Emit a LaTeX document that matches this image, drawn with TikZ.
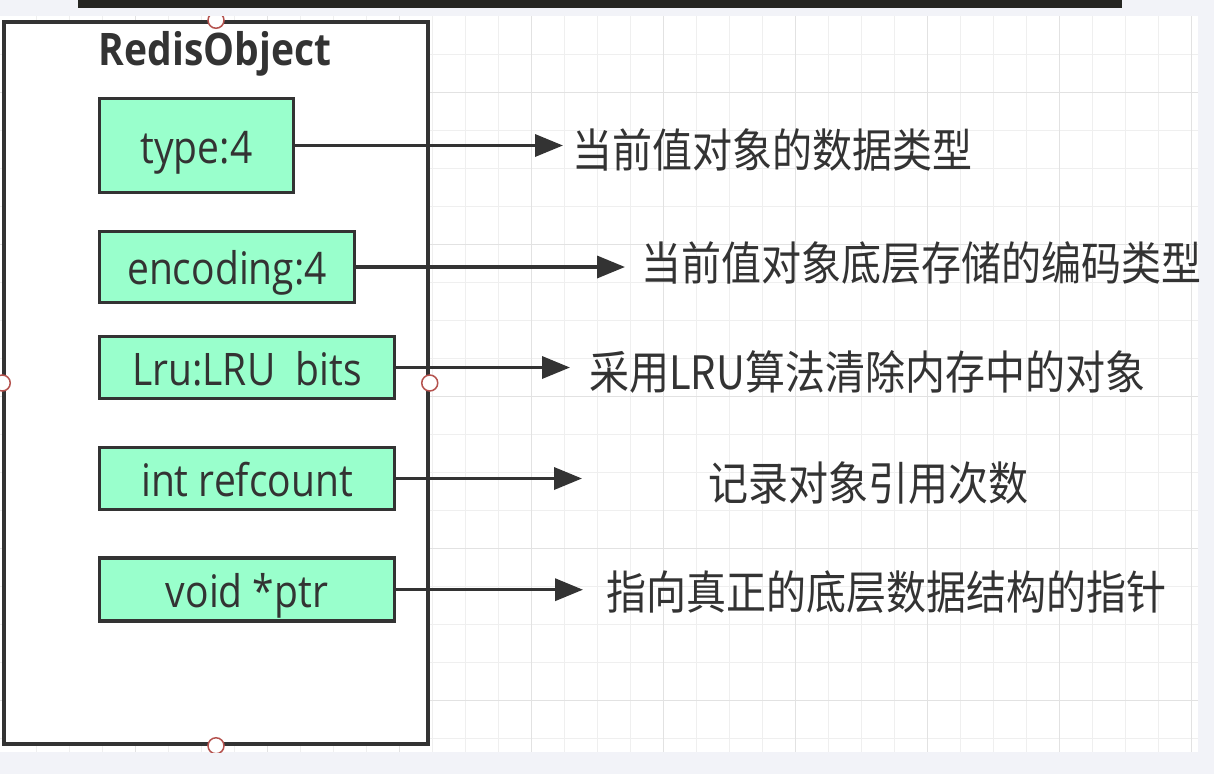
\documentclass[tikz,border=0pt]{standalone}
\usepackage{graphicx}
\usepackage{fontspec}
\setmainfont{Open Sans}
\newfontfamily\cjk{Noto Sans CJK SC}
\usetikzlibrary{arrows.meta}
\definecolor{ink}{HTML}{333333}
\definecolor{mint}{HTML}{99FFCC}
\definecolor{pagegray}{HTML}{F2F3F8}
\definecolor{gridminor}{HTML}{EFEFEF}
\definecolor{gridmajor}{HTML}{E2E2E2}
\definecolor{barblack}{HTML}{262622}
\definecolor{pinred}{HTML}{B5524E}
\newcommand{\tall}[1]{\scalebox{1}[1.15]{#1}}

\begin{document}
\begin{tikzpicture}[x=1pt,y=-1pt,
    field/.style={draw=ink, line width=3.5pt, fill=mint, text=ink, inner sep=0pt,
        text height=35pt, text depth=0pt, font=\fontsize{39}{40}\selectfont},
    note/.style={anchor=base west, inner sep=0pt, text=ink, font=\cjk\fontsize{40}{44}\selectfont},
    pin/.style={draw=pinred, line width=1.5pt, fill=white},
    link/.style={draw=ink, line width=3.5pt, -{Triangle[length=28pt,width=22pt]}}]
    \useasboundingbox (0,0) rectangle (1214,774);
    \fill[pagegray] (0,0) rectangle (1214,774);
    \fill[barblack] (78,0) rectangle (1122,8);
    \fill[white] (0,16) rectangle (1198,752);
    % grid
    \foreach \k in {0,...,35}{
        \draw[gridminor, line width=1pt] ({36.7+33*\k},16)--({36.7+33*\k},752);
        };
    \foreach \k in {1,...,19}{
        \draw[gridminor, line width=1pt] (0,{16+38*\k})--(1198,{16+38*\k});
        };
    \foreach \k in {3,7,...,35}{
        \draw[gridmajor, line width=1pt] ({36.7+33*\k},16)--({36.7+33*\k},752);
        };
    \foreach \k in {2,6,...,18}{
        \draw[gridmajor, line width=1pt] (0,{16+38*\k})--(1198,{16+38*\k});
        };
    % the object and its fields
    \node[draw=ink, line width=3.5pt, fill=white, minimum width=424pt, minimum height=722pt, inner sep=0pt] (robj) at (216,383) {};
    \node[anchor=base, inner sep=0pt, text=ink, font=\bfseries\fontsize{39}{42}\selectfont] (title) at (215,65) {\tall{RedisObject}};
    \node[field, minimum width=194pt, minimum height=94pt] (type) at (196.5,145.5) {\tall{type:4}};
    \node[field, minimum width=255pt, minimum height=71pt] (enc) at (227,267) {\tall{encoding:4}};
    \node[field, minimum width=295pt, minimum height=62pt] (lru) at (247,367.5) {\tall{Lru:LRU\ \ bits}};
    \node[field, minimum width=295pt, minimum height=62pt] (ref) at (247,478.5) {\tall{int refcount}};
    \node[field, minimum width=295pt, minimum height=63pt] (ptr) at (247,589.7) {\tall{void *ptr}};
    % descriptions
    \node[note] (typeNote) at (572,167) {\tall{当前值对象的数据类型}};
    \node[note] (encNote) at (641,280) {\tall{当前值对象底层存储的编码类型}};
    \node[note] (lruNote) at (589,389) {\tall{采用LRU算法清除内存中的对象}};
    \node[note] (refNote) at (708,500) {\tall{记录对象引用次数}};
    \node[note] (ptrNote) at (606,609) {\tall{指向真正的底层数据结构的指针}};
    \coordinate (typeTip) at (563,145.5);
    \coordinate (encTip) at (625,267);
    \coordinate (lruTip) at (570,367.5);
    \coordinate (refTip) at (582,478.5);
    \coordinate (ptrTip) at (583,589.7);
    \draw[link] (type.east) -- (typeTip);
    \draw[link] (enc.east) -- (encTip);
    \draw[link] (lru.east) -- (lruTip);
    \draw[link] (ref.east) -- (refTip);
    \draw[link] (ptr.east) -- (ptrTip);
    % connection points
    \begin{scope}
        \clip (0,16) rectangle (1198,752);
        \foreach \a in {north,south,west,east}{
            \draw[pin] (robj.\a) circle (8pt);
            };
    \end{scope}
\end{tikzpicture}
\end{document}
